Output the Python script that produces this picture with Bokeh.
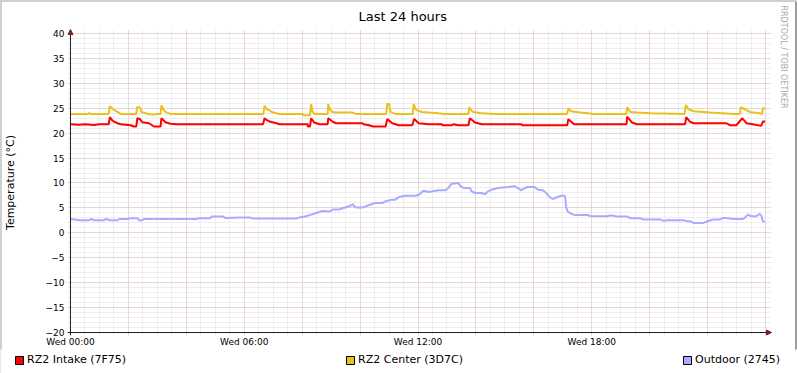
from bokeh.plotting import figure
from bokeh.models import (Range1d, SingleIntervalTicker, Legend, LegendItem, Title,
                          Arrow, NormalHead, Span)
from bokeh.embed import file_html
from bokeh.resources import INLINE

# ---------------- data ----------------
TITLE = "Last 24 hours"
Y_LABEL = "Temperature (°C)"
WATERMARK = "RRDTOOL / TOBI OETIKER"
X_TICK_LABELS = {0: "Wed 00:00", 6: "Wed 06:00", 12: "Wed 12:00", 18: "Wed 18:00"}
SERIES_NAMES = ["RZ2 Intake (7F75)", "RZ2 Center (3D7C)", "Outdoor (2745)"]
SERIES_COLORS = ["#FF0000", "#E8C11F", "#AAAAFF"]

intake_hours = [0.02, 0.30, 0.50, 0.80, 1.00, 1.32, 1.36, 1.45, 1.51, 1.62, 1.74, 2.08, 2.19, 2.27,
                2.31, 2.40, 2.48, 2.71, 2.82, 2.88, 3.11, 3.14, 3.28, 3.45, 3.68, 6.65, 6.70, 6.78,
                6.88, 7.11, 7.22, 8.19, 8.20, 8.27, 8.31, 8.42, 8.59, 8.88, 8.90, 9.05, 9.17, 10.08,
                10.12, 10.31, 10.45, 10.88, 10.94, 11.11, 11.34, 11.80, 11.87, 12.02, 12.37, 12.82,
                12.85, 13.17, 13.22, 13.39, 13.74, 13.79, 13.97, 14.20, 15.57, 15.60, 17.15, 17.19,
                17.39, 19.20, 19.22, 19.39, 19.56, 21.22, 21.26, 21.39, 21.51, 22.65, 22.77, 22.99,
                23.20, 23.34, 23.56, 23.85, 23.91, 23.99]
intake_temp = [21.79, 21.70, 21.79, 21.65, 21.79, 21.79, 23.20, 22.50, 22.33, 21.99, 21.79, 21.59,
               21.33, 21.33, 22.99, 22.80, 22.19, 21.99, 21.59, 21.33, 21.33, 22.99, 22.19, 21.89,
               21.79, 21.79, 22.99, 22.60, 22.33, 21.99, 21.79, 21.79, 21.33, 21.33, 22.99, 22.13,
               21.79, 21.79, 22.99, 22.33, 21.99, 21.99, 21.79, 21.59, 21.33, 21.33, 22.86, 21.99,
               21.59, 21.59, 22.86, 21.99, 21.79, 21.79, 21.59, 21.59, 21.79, 21.59, 21.59, 22.99,
               22.13, 21.79, 21.79, 21.59, 21.59, 22.79, 21.79, 21.79, 23.33, 22.13, 21.79, 21.79,
               23.19, 22.33, 21.99, 21.99, 21.59, 21.59, 22.99, 21.99, 21.79, 21.46, 22.33, 22.33]

center_hours = [0.02, 0.62, 0.65, 0.70, 1.32, 1.36, 1.45, 1.51, 1.62, 1.74, 2.27, 2.30, 2.40, 2.45,
                2.55, 2.71, 2.88, 2.99, 3.11, 3.14, 3.20, 3.28, 3.45, 6.66, 6.70, 6.78, 6.88, 6.99,
                7.22, 8.02, 8.05, 8.27, 8.31, 8.36, 8.42, 8.88, 8.90, 8.97, 9.05, 9.17, 9.74, 9.85,
                10.90, 10.94, 11.00, 11.05, 11.22, 11.82, 11.85, 11.92, 11.97, 12.14, 12.37, 12.71,
                12.88, 13.74, 13.77, 13.85, 13.91, 14.20, 14.65, 17.15, 17.19, 17.28, 17.62, 18.08,
                19.20, 19.22, 19.30, 19.34, 19.56, 20.02, 21.20, 21.25, 21.34, 21.51, 22.08, 22.90,
                23.12, 23.14, 23.28, 23.45, 23.79, 23.88, 23.91, 23.99]
center_temp = [23.86, 23.86, 24.05, 23.86, 23.86, 25.40, 24.90, 24.66, 24.26, 23.86, 23.86, 25.20,
               25.20, 24.26, 24.10, 23.80, 23.73, 23.86, 23.86, 25.60, 24.80, 24.26, 23.86, 23.86,
               25.46, 24.80, 24.50, 24.13, 23.86, 23.86, 23.60, 23.60, 25.86, 24.30, 23.86, 23.86,
               25.86, 24.60, 24.26, 24.13, 24.13, 23.86, 23.86, 25.86, 25.86, 24.26, 23.86, 23.86,
               25.86, 24.80, 24.53, 24.26, 24.13, 24.00, 23.86, 23.86, 25.20, 24.50, 24.26, 24.00,
               23.86, 23.86, 25.00, 24.40, 24.13, 23.86, 23.86, 25.20, 24.50, 24.26, 24.13, 24.00,
               23.86, 25.66, 24.80, 24.40, 24.13, 23.86, 23.86, 25.20, 24.80, 24.26, 24.00, 23.86,
               25.00, 25.00]

outdoor_hours = [0.02, 0.31, 0.65, 0.71, 0.82, 1.16, 1.22, 1.39, 1.62, 1.68, 1.96, 2.08, 2.31, 2.37,
                 2.48, 2.54, 4.37, 4.42, 4.82, 4.88, 5.28, 5.34, 5.85, 6.19, 6.31, 7.79, 7.90, 8.14,
                 8.31, 8.48, 8.71, 8.94, 9.06, 9.28, 9.39, 9.62, 9.74, 9.85, 10.08, 10.31, 10.54,
                 10.76, 10.88, 11.11, 11.22, 11.34, 11.56, 11.91, 12.02, 12.19, 12.37, 12.71, 12.94,
                 13.05, 13.16, 13.39, 13.45, 13.57, 13.80, 13.85, 13.97, 14.20, 14.31, 14.42, 14.54,
                 14.77, 15.11, 15.34, 15.45, 15.57, 15.68, 15.79, 16.02, 16.14, 16.31, 16.43, 16.54,
                 16.65, 16.82, 17.00, 17.08, 17.11, 17.16, 17.28, 17.39, 17.85, 17.97, 18.54, 18.65,
                 18.88, 19.22, 19.34, 19.68, 19.79, 20.37, 20.48, 20.59, 21.17, 21.28, 21.40, 21.51,
                 21.85, 21.97, 22.20, 22.42, 22.54, 22.65, 22.88, 23.22, 23.28, 23.39, 23.51, 23.68,
                 23.79, 23.85, 23.91, 23.97]
outdoor_temp = [2.79, 2.53, 2.53, 2.79, 2.53, 2.53, 2.79, 2.53, 2.53, 2.79, 2.79, 2.93, 2.93, 2.53,
                2.53, 2.79, 2.79, 2.93, 2.93, 3.26, 3.26, 2.99, 3.06, 3.06, 2.86, 2.86, 3.06, 3.33,
                3.66, 3.99, 4.39, 4.26, 4.66, 4.66, 4.93, 5.33, 5.73, 5.06, 5.06, 5.59, 5.99, 5.99,
                6.33, 6.66, 6.66, 7.19, 7.46, 7.46, 7.59, 8.46, 8.19, 8.53, 8.53, 8.99, 9.86, 9.99,
                9.46, 8.99, 8.99, 8.33, 7.99, 7.99, 7.73, 8.33, 8.66, 8.99, 9.19, 9.33, 8.99, 8.53,
                8.99, 9.19, 9.19, 8.66, 8.53, 7.99, 7.19, 6.79, 7.19, 7.53, 7.33, 5.33, 4.33, 3.86,
                3.59, 3.59, 3.33, 3.33, 3.53, 3.26, 3.26, 2.93, 2.93, 2.66, 2.66, 2.39, 2.53, 2.53,
                2.33, 2.33, 1.99, 1.99, 2.26, 2.66, 2.66, 2.99, 2.99, 2.79, 2.79, 2.99, 3.66, 3.33,
                3.33, 3.79, 3.53, 2.33, 2.13]

X_START, X_END = 0, 24     # hours
Y_MIN, Y_MAX = -20, 40     # degrees

# ---------------- layout (pixels) ----------------
W = 797
H_MAIN, H_LEG = 349, 24
PLOT_L, PLOT_W = 66, 700   # x = 0h .. 24h
PLOT_T, PLOT_H = 33, 300   # y = 40 .. -20
PAD_L, PAD_B = 3, 3        # grid stubs past the axes (rrdtool tick look)
PAD_R, PAD_T = 6, 4        # room for the axis arrows
hpp = (X_END - X_START) / PLOT_W
vpp = (Y_MAX - Y_MIN) / PLOT_H
frame_l = PLOT_L - PAD_L
frame_t = PLOT_T - PAD_T
frame_w = PLOT_W + PAD_L + PAD_R
frame_h = PLOT_H + PAD_T + PAD_B
border_r = W - frame_l - frame_w

FONT = "DejaVu Sans"
p = figure(width=W, height=H_MAIN,
           x_range=Range1d(X_START - PAD_L * hpp, X_END + PAD_R * hpp),
           y_range=Range1d(Y_MIN - PAD_B * vpp, Y_MAX + PAD_T * vpp),
           output_backend="svg", toolbar_location=None,
           min_border_left=frame_l, min_border_right=border_r,
           min_border_top=frame_t, min_border_bottom=H_MAIN - frame_t - frame_h,
           background_fill_color="#FFFFFF", border_fill_color="#FFFFFF", border_fill_alpha=0,
           outline_line_color=None,
           styles={"background-color": "#FFFFFF",
                   "box-shadow": "inset 2px 2px 0 #CFCFCF, inset -2px 0 0 #9E9E9E"})

# title
p.title.text = TITLE
p.title.text_font = FONT
p.title.text_font_size = "13px"
p.title.text_font_style = "normal"
p.title.text_color = "#000000"
p.title.align = "left"
p.title.offset = 354 - frame_l
p.title.standoff = 11

# watermark on the right
p.add_layout(Title(text=WATERMARK, align="left", offset=5 - frame_t, standoff=15,
                   text_font=FONT, text_font_size="8px", text_font_style="normal",
                   text_color="#A8A8A8"), "right")

# axes (ticks drawn by grid stubs, axis lines by spans)
p.xaxis.ticker = SingleIntervalTicker(interval=2, num_minor_ticks=4)
p.xaxis.major_label_overrides = {t: X_TICK_LABELS.get(t, "") for t in range(0, 25, 2)}
p.yaxis.ticker = SingleIntervalTicker(interval=5, num_minor_ticks=5)
for ax in (p.xaxis[0], p.yaxis[0]):
    ax.axis_line_color = None
    ax.major_tick_line_color = None
    ax.minor_tick_line_color = None
    ax.major_tick_out = 0
    ax.major_tick_in = 0
    ax.minor_tick_out = 0
    ax.minor_tick_in = 0
    ax.major_label_text_font = FONT
    ax.major_label_text_font_size = "9px"
    ax.major_label_text_color = "#000000"
p.yaxis.major_label_standoff = 3
p.xaxis.major_label_standoff = 1
p.yaxis.axis_label = Y_LABEL
p.yaxis.axis_label_text_font = FONT
p.yaxis.axis_label_text_font_size = "11px"
p.yaxis.axis_label_text_font_style = "normal"
p.yaxis.axis_label_text_color = "#000000"
p.yaxis.axis_label_standoff = 26

# grids (light dotted, rrdtool style)
for g in (p.xgrid[0], p.ygrid[0]):
    g.grid_line_color = "#EDBABA"
    g.grid_line_dash = "1 1"
    g.grid_line_width = 1
    g.minor_grid_line_color = "#DEDEDE"
    g.minor_grid_line_dash = "1 1"
    g.minor_grid_line_width = 1

# axis lines + arrows
axis_col = "#1F1F1F"
arrow_col = "#801F1F"
p.add_layout(Span(location=X_START, dimension="height", line_color=axis_col, line_width=1))
p.add_layout(Span(location=Y_MIN, dimension="width", line_color=axis_col, line_width=1))
p.add_layout(Arrow(end=NormalHead(size=5, fill_color=arrow_col, line_color=arrow_col),
                   x_start=X_START, y_start=Y_MAX, x_end=X_START, y_end=Y_MAX + PAD_T * vpp,
                   line_color=axis_col, line_width=1))
p.add_layout(Arrow(end=NormalHead(size=5, fill_color=arrow_col, line_color=arrow_col),
                   x_start=X_END, y_start=Y_MIN, x_end=X_END + PAD_R * hpp, y_end=Y_MIN,
                   line_color=axis_col, line_width=1))

# data lines
hours = [intake_hours, center_hours, outdoor_hours]
temps = [intake_temp, center_temp, outdoor_temp]
for h, t, c in zip(hours, temps, SERIES_COLORS):
    p.line(h, t, line_color=c, line_width=2)

# ---------------- legend strip (separate root, full-width frame) ----------------
lp = figure(width=W, height=H_LEG,
            x_range=Range1d(X_START - PAD_L * hpp, X_END + PAD_R * hpp),
            y_range=Range1d(Y_MAX + 10, Y_MAX + 20),
            output_backend="svg", toolbar_location=None,
            x_axis_location=None, y_axis_location=None,
            min_border_left=0, min_border_right=0, min_border_top=0, min_border_bottom=0,
            background_fill_color="#FFFFFF", border_fill_color="#FFFFFF", border_fill_alpha=0,
            outline_line_color=None,
            styles={"background-color": "#FFFFFF",
                    "box-shadow": "inset 2px 0 0 #CFCFCF, inset -2px -2px 0 #9E9E9E"})
lp.xgrid.visible = False
lp.ygrid.visible = False
items = []
for name, col, h, t in zip(SERIES_NAMES, SERIES_COLORS, hours, temps):
    # swatch renderer: one zero-size quad at the series' first sample, outside this strip's range
    r = lp.quad(left=h[:1], right=h[:1], top=t[:1], bottom=t[:1], fill_color=col,
                line_color="#000000", line_width=1)
    items.append(LegendItem(label=name, renderers=[r]))
legend = Legend(items=items, location=(14, 7), orientation="horizontal",
                glyph_width=10, glyph_height=10, label_standoff=3, padding=0, margin=0,
                spacing=219, label_height=10, label_width=10,
                background_fill_alpha=0, border_line_alpha=0,
                label_text_font=FONT, label_text_font_size="11px", label_text_color="#000000")
lp.add_layout(legend, "center")

open("out.html", "w").write(file_html([p, lp], INLINE))
